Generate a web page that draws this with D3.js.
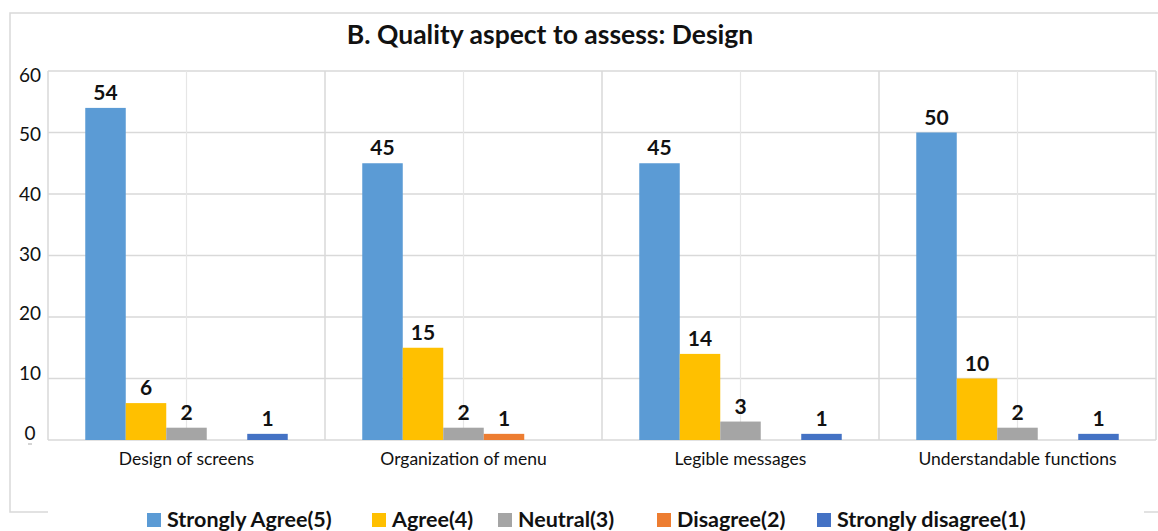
<!DOCTYPE html>
<html>
<head>
<meta charset="utf-8">
<script src="https://cdn.jsdelivr.net/npm/d3@7"></script>
<style>
  body { margin: 0; background: #fff; }
  svg { display: block; font-family: Lato, 'Open Sans', sans-serif; }
</style>
</head>
<body>
<script>
// Data
const categories = ['Design of screens', 'Organization of menu', 'Legible messages', 'Understandable functions'];
const seriesNames = ['Strongly Agree(5)', 'Agree(4)', 'Neutral(3)', 'Disagree(2)', 'Strongly disagree(1)'];
const stronglyAgree = [54, 45, 45, 50];
const agree = [6, 15, 14, 10];
const neutral = [2, 2, 3, 2];
const disagree = [0, 1, 0, 0];
const stronglyDisagree = [1, 0, 1, 1];
const yTicks = [0, 10, 20, 30, 40, 50, 60];
const title = 'B. Quality aspect to assess: Design';

const colors = ['#5B9BD5', '#FFC000', '#A5A5A5', '#ED7D31', '#4472C4'];
const seriesValues = [stronglyAgree, agree, neutral, disagree, stronglyDisagree];

// Canvas
const width = 1158;
const height = 531;
const svg = d3
  .select('body')
  .append('svg')
  .attr('width', width)
  .attr('height', height);

// Outer frame
svg
  .append('rect')
  .attr('x', 10)
  .attr('y', 13)
  .attr('width', 1160)
  .attr('height', 499)
  .attr('fill', 'none')
  .attr('stroke', '#d9d9d9')
  .attr('stroke-width', 1.5);

// Scales
const plot = { left: 48, right: 1156, top: 71, bottom: 440 };
const x0 = d3.scaleBand().domain(categories).range([plot.left, plot.right]);
const x1 = d3
  .scaleBand()
  .domain(seriesNames)
  .range([0, x0.bandwidth()])
  .paddingInner(0)
  .paddingOuter(0.92);
const y = d3.scaleLinear().domain([0, 60]).range([plot.bottom, plot.top]);
// labels on the y axis sit a little off the gridlines in the reference
const yLabel = d3.scaleLinear().domain([0, 60]).range([433, 75]);

// Gridlines
const grid = svg.append('g');
grid
  .selectAll('line.h')
  .data(yTicks)
  .enter()
  .append('line')
  .attr('x1', plot.left)
  .attr('x2', plot.right)
  .attr('y1', (d) => y(d))
  .attr('y2', (d) => y(d))
  .attr('stroke', '#d9d9d9')
  .attr('stroke-width', 1.5);

grid
  .selectAll('line.vb')
  .data(categories.concat(['end']))
  .enter()
  .append('line')
  .attr('x1', (d) => (d === 'end' ? plot.right : x0(d)))
  .attr('x2', (d) => (d === 'end' ? plot.right : x0(d)))
  .attr('y1', plot.top)
  .attr('y2', plot.bottom)
  .attr('stroke', '#d9d9d9')
  .attr('stroke-width', 1.5);

grid
  .selectAll('line.vc')
  .data(categories)
  .enter()
  .append('line')
  .attr('x1', (d) => x0(d) + x0.bandwidth() / 2)
  .attr('x2', (d) => x0(d) + x0.bandwidth() / 2)
  .attr('y1', plot.top)
  .attr('y2', plot.bottom)
  .attr('stroke', '#e6e6e6')
  .attr('stroke-width', 1.2);

// Y axis labels
svg
  .append('g')
  .selectAll('text')
  .data(yTicks)
  .enter()
  .append('text')
  .attr('x', 30)
  .attr('y', (d) => yLabel(d))
  .attr('dy', '0.35em')
  .attr('text-anchor', 'middle')
  .attr('font-size', 19)
  .attr('fill', '#111')
  .text((d) => d);

svg
  .append('line')
  .attr('x1', 28)
  .attr('x2', 32)
  .attr('y1', 444)
  .attr('y2', 444)
  .attr('stroke', '#aaa')
  .attr('stroke-width', 1);

// Bars
const groups = svg
  .append('g')
  .selectAll('g')
  .data(categories)
  .enter()
  .append('g')
  .attr('transform', (d) => `translate(${x0(d)},0)`);

const barData = (cat, ci) =>
  seriesNames.map((s, si) => ({ s, si, v: seriesValues[si][ci] }));

groups
  .selectAll('rect')
  .data(barData)
  .enter()
  .append('rect')
  .attr('x', (d) => x1(d.s))
  .attr('width', x1.bandwidth())
  .attr('y', (d) => y(d.v))
  .attr('height', (d) => y(0) - y(d.v))
  .attr('fill', (d) => colors[d.si]);

groups
  .selectAll('text')
  .data((cat, ci) => barData(cat, ci).filter((d) => d.v > 0))
  .enter()
  .append('text')
  .attr('x', (d) => x1(d.s) + x1.bandwidth() / 2)
  .attr('y', (d) => y(d.v) - 8)
  .attr('text-anchor', 'middle')
  .attr('font-size', 21)
  .attr('font-weight', 'bold')
  .attr('fill', '#111')
  .text((d) => d.v);

// Category labels
svg
  .append('g')
  .selectAll('text')
  .data(categories)
  .enter()
  .append('text')
  .attr('x', (d) => x0(d) + x0.bandwidth() / 2)
  .attr('y', 465)
  .attr('text-anchor', 'middle')
  .attr('font-size', 17.5)
  .attr('fill', '#111')
  .text((d) => d);

// Title
svg
  .append('text')
  .attr('x', 550)
  .attr('y', 44)
  .attr('text-anchor', 'middle')
  .attr('font-size', 26.5)
  .attr('font-weight', 'bold')
  .attr('fill', '#111')
  .text(title);

// Legend
const legend = svg.append('g');
legend
  .append('rect')
  .attr('x', 48)
  .attr('y', 500)
  .attr('width', 1096)
  .attr('height', 31)
  .attr('fill', '#fff');

const legendX = [147, 372, 498, 657, 817];
const items = legend
  .selectAll('g')
  .data(seriesNames)
  .enter()
  .append('g')
  .attr('transform', (d, i) => `translate(${legendX[i]},513)`);

items
  .append('rect')
  .attr('width', 14)
  .attr('height', 14)
  .attr('fill', (d, i) => colors[i]);

items
  .append('text')
  .attr('x', 20)
  .attr('y', 14)
  .attr('font-size', 21.5)
  .attr('font-weight', 'bold')
  .attr('fill', '#111')
  .text((d) => d);
</script>
</body>
</html>
